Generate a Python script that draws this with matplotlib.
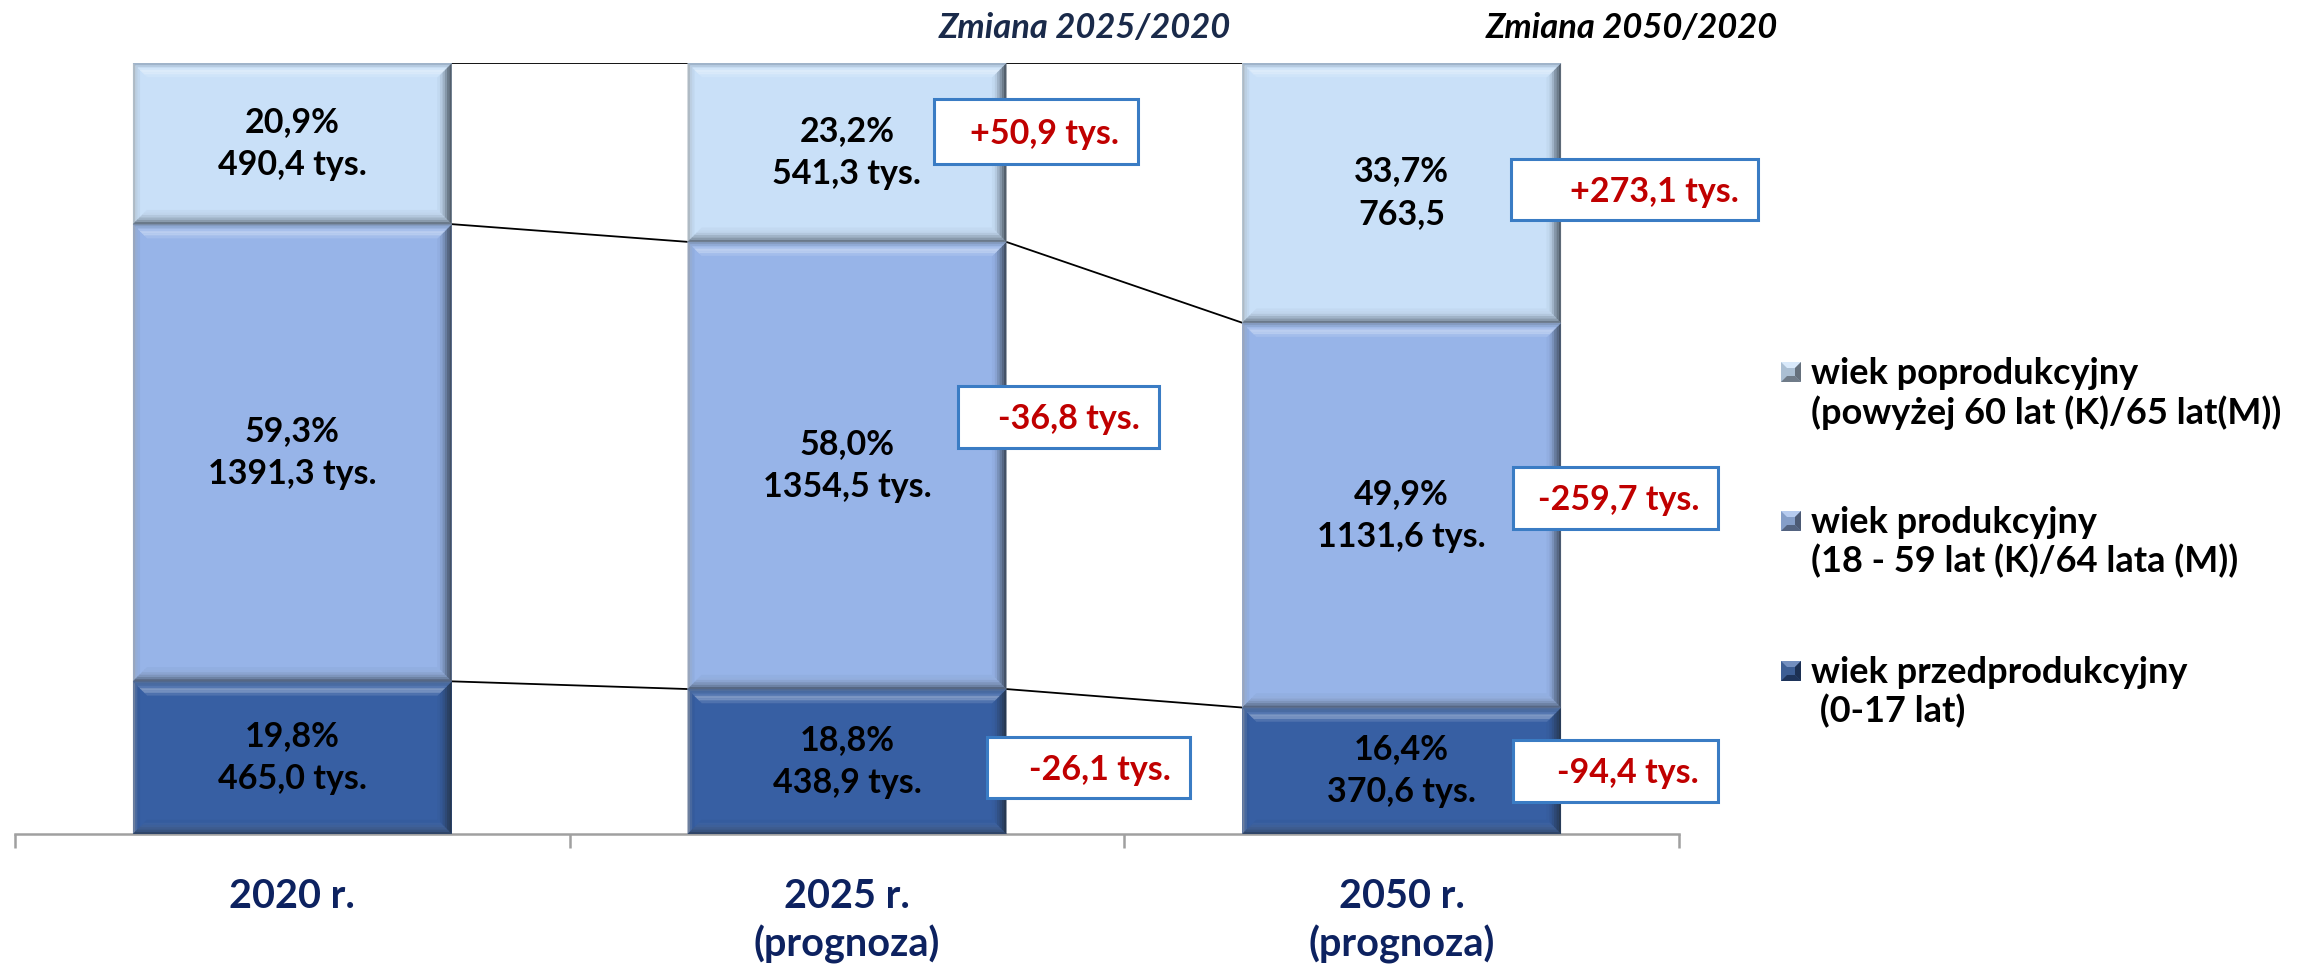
import matplotlib
matplotlib.use("Agg")
import matplotlib.pyplot as plt
from matplotlib.patches import Polygon, Rectangle
import matplotlib.transforms as mtransforms
import numpy as np

plt.rcParams['font.family'] = ['Lato', 'DejaVu Sans']

# ---------------- data ----------------
categories = ['2020 r.', '2025 r.\n(prognoza)', '2050 r.\n(prognoza)']
pct_pre = [19.8, 18.8, 16.4]
pct_prod = [59.3, 58.0, 49.9]
pct_post = [20.9, 23.2, 33.7]
abs_pre = ['465,0 tys.', '438,9 tys.', '370,6 tys.']
abs_prod = ['1391,3 tys.', '1354,5 tys.', '1131,6 tys.']
abs_post = ['490,4 tys.', '541,3 tys.', '763,5']
change_2025 = ['-26,1 tys.', '-36,8 tys.', '+50,9 tys.']   # pre, prod, post
change_2050 = ['-94,4 tys.', '-259,7 tys.', '+273,1 tys.']
headers = ['Zmiana 2025/2020', 'Zmiana 2050/2020']
legend_labels = ['wiek poprodukcyjny\n(powyżej 60 lat (K)/65 lat(M))',
                 'wiek produkcyjny\n(18 - 59 lat (K)/64 lata (M))',
                 'wiek przedprodukcyjny\n (0-17 lat)']

colors = {'pre': '#375FA3', 'prod': '#97B4E8', 'post': '#C9E0F8'}

W, H = 2303, 965
fig = plt.figure(figsize=(W / 100, H / 100), dpi=100)
ax_l, ax_r, ax_b, ax_t = 15, 1679, 834, 63
ax = fig.add_axes([ax_l / W, 1 - ax_b / H, (ax_r - ax_l) / W, (ax_b - ax_t) / H])
ax.set_xlim(-0.5, 2.5)
ax.set_ylim(0, 100)

x = np.arange(len(categories))
bw = 0.574
pre = np.array(pct_pre)
prod = np.array(pct_prod)
post = np.array(pct_post)

px_x = (ax_r - ax_l) / 3.0
px_y = (ax_b - ax_t) / 100.0


def mix(c, other, t):
    c = np.array(matplotlib.colors.to_rgb(c))
    o = np.array(matplotlib.colors.to_rgb(other))
    return tuple(np.clip(c * (1 - t) + o * t, 0, 1))


def band(side, x0, x1, y0, y1, bx, by, cols, z=3):
    n = len(cols)
    for k, c in enumerate(cols):
        a, b = k / n, (k + 1) / n
        if side == 'top':
            pts = [(x0 + bx * a, y1 - by * a), (x1 - bx * a, y1 - by * a),
                   (x1 - bx * b, y1 - by * b), (x0 + bx * b, y1 - by * b)]
        elif side == 'bottom':
            pts = [(x0 + bx * a, y0 + by * a), (x1 - bx * a, y0 + by * a),
                   (x1 - bx * b, y0 + by * b), (x0 + bx * b, y0 + by * b)]
        elif side == 'left':
            pts = [(x0 + bx * a, y0 + by * a), (x0 + bx * a, y1 - by * a),
                   (x0 + bx * b, y1 - by * b), (x0 + bx * b, y0 + by * b)]
        else:
            pts = [(x1 - bx * a, y0 + by * a), (x1 - bx * a, y1 - by * a),
                   (x1 - bx * b, y1 - by * b), (x1 - bx * b, y0 + by * b)]
        ax.add_patch(Polygon(pts, closed=True, facecolor=c, edgecolor=c, lw=0.3, zorder=z))


def bevel(x0, x1, y0, y1, col, b=14):
    bx, by = b / px_x, b / px_y
    top = [mix(col, '#6E7F92', 0.45), mix(col, '#8090A0', 0.25), mix(col, 'white', 0.15),
           mix(col, 'white', 0.35), mix(col, 'white', 0.3), mix(col, 'white', 0.12)]
    bot = [mix(col, '#2A3440', 0.6), mix(col, '#3A4450', 0.45), mix(col, '#4A5460', 0.32),
           mix(col, '#5A6470', 0.2), mix(col, '#6A7480', 0.1), mix(col, 'black', 0.03)]
    left = [mix(col, '#9A9A9A', 0.55), mix(col, '#8A8A8A', 0.2), mix(col, 'black', 0.04),
            col, col, col]
    right = [mix(col, '#202830', 0.7), mix(col, '#202830', 0.55), mix(col, '#202830', 0.4),
             mix(col, '#202830', 0.25), mix(col, '#202830', 0.12), mix(col, '#202830', 0.04)]
    band('left', x0, x1, y0, y1, bx, by, left)
    band('right', x0, x1, y0, y1, bx, by, right)
    band('top', x0, x1, y0, y1, bx, by, top)
    band('bottom', x0, x1, y0, y1, bx, by, bot)


segs = [(pre, np.zeros(3), 'pre', abs_pre),
        (prod, pre, 'prod', abs_prod),
        (post, pre + prod, 'post', abs_post)]
for vals, bottoms, key, abs_lbl in segs:
    bars = ax.bar(x, vals, bw, bottom=bottoms, color=colors[key], edgecolor='none', zorder=2)
    for i, r in enumerate(bars):
        bevel(r.get_x(), r.get_x() + r.get_width(), r.get_y(), r.get_y() + r.get_height(), colors[key])
        ax.text(r.get_x() + r.get_width() / 2, r.get_y() + r.get_height() / 2,
                f"{vals[i]:.1f}%".replace('.', ',') + "\n" + abs_lbl[i],
                ha='center', va='center', fontsize=24.5, fontweight='bold', color='black',
                linespacing=1.42, zorder=5)

# connector lines between bars
bounds = [pre, pre + prod, pre + prod + post]
for b in bounds:
    for i in range(len(x) - 1):
        ax.plot([x[i] + bw / 2, x[i + 1] - bw / 2], [b[i], b[i + 1]], color='black', lw=1.3, zorder=1,
                solid_capstyle='butt')

# axes styling
for s in ['top', 'right', 'left']:
    ax.spines[s].set_visible(False)
ax.spines['bottom'].set_color('#A0A0A0')
ax.spines['bottom'].set_linewidth(1.8)
ax.set_yticks([])
ax.set_xticks([-0.5, 0.5, 1.5, 2.5])
ax.set_xticklabels([])
ax.tick_params(axis='x', length=10, width=1.8, color='#A0A0A0', direction='out')

# overlay axes in pixel coordinates for annotations
ov = fig.add_axes([0, 0, 1, 1], zorder=10)
ov.set_xlim(0, W)
ov.set_ylim(H, 0)
ov.axis('off')
ov.patch.set_alpha(0)

trans = mtransforms.blended_transform_factory(ax.transData, ov.transData)
for i, cat in enumerate(categories):
    for j, line in enumerate(cat.split('\n')):
        ax.text(x[i], 896 + 48 * j, line, transform=trans, ha='center', va='center', fontsize=28.5,
                fontweight='bold', color='#0D2260')

ov.text(1085, 28, headers[0], ha='center', va='center', fontsize=24.8, fontweight='bold',
        style='italic', color='#1A2A4A')
ov.text(1632, 28, headers[1], ha='center', va='center', fontsize=24.8, fontweight='bold',
        style='italic', color='black')

# change boxes (x0, x1, y0, y1) in pixels; order pre, prod, post
boxes_2025 = [(987, 1190, 737, 798), (958, 1159, 386, 448), (934, 1138, 99, 164)]
boxes_2050 = [(1513, 1718, 740, 802), (1513, 1718, 467, 529), (1511, 1758, 159, 220)]
for labels, boxes in [(change_2025, boxes_2025), (change_2050, boxes_2050)]:
    for lbl, (bx0, bx1, by0, by1) in zip(labels, boxes):
        ov.add_patch(Rectangle((bx0, by0), bx1 - bx0, by1 - by0, facecolor='white',
                               edgecolor='#3A7CC4', lw=2.2, zorder=1))
        ov.text(bx1 - 19, (by0 + by1) / 2 + 2, lbl, ha='right', va='center', fontsize=24.5,
                fontweight='bold', color='#C00000', zorder=2)

# legend
leg_y = [372, 521, 671]
leg_cols = [colors['post'], colors['prod'], colors['pre']]
for yy, lbl, c in zip(leg_y, legend_labels, leg_cols):
    s = 20
    x0, y0 = 1781, yy - s / 2
    cc = mix(c, '#505a66', 0.25)
    ov.add_patch(Rectangle((x0, y0), s, s, facecolor=cc, edgecolor='none'))
    b = 6
    ov.add_patch(Polygon([(x0, y0), (x0 + s, y0), (x0 + s - b, y0 + b), (x0 + b, y0 + b)],
                         facecolor=mix(c, 'white', 0.3), edgecolor='none'))
    ov.add_patch(Polygon([(x0, y0 + s), (x0 + s, y0 + s), (x0 + s - b, y0 + s - b), (x0 + b, y0 + s - b)],
                         facecolor=mix(c, 'black', 0.45), edgecolor='none'))
    ov.add_patch(Polygon([(x0 + s, y0), (x0 + s, y0 + s), (x0 + s - b, y0 + s - b), (x0 + s - b, y0 + b)],
                         facecolor=mix(c, 'black', 0.5), edgecolor='none'))
    ov.text(1811, yy - 15, lbl, ha='left', va='top', fontsize=26, fontweight='bold',
            color='black', linespacing=1.17)

fig.savefig('out.png', dpi=100, facecolor='white')
